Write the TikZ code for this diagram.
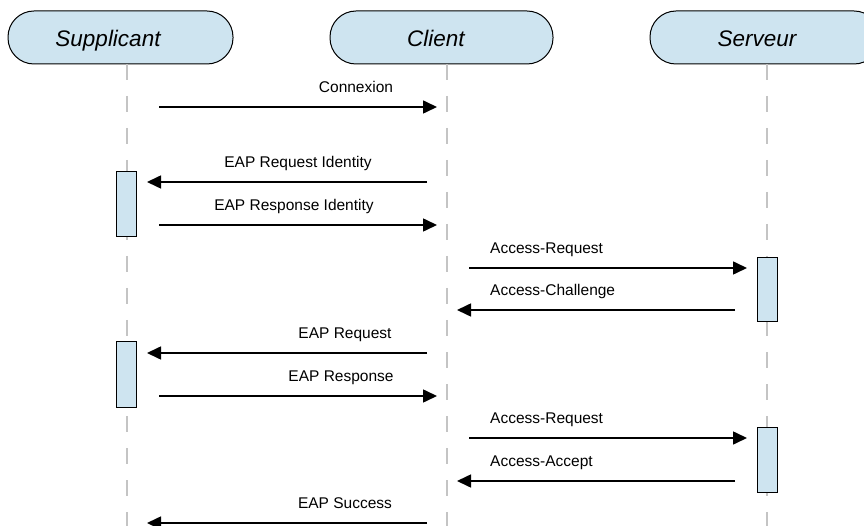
\documentclass[tikz,border=0pt]{standalone}
\usepackage{fontspec}
\setmainfont{Liberation Sans}
\usetikzlibrary{arrows.meta}
\definecolor{boxfill}{RGB}{206,228,240}
\definecolor{lifegray}{RGB}{196,196,196}
\begin{document}
\begin{tikzpicture}[x=1pt,y=-1pt,
  actor/.style={draw=black,fill=boxfill,line width=1pt,rounded corners=26pt,minimum height=53pt,inner sep=0pt},
  actortext/.style={font=\fontsize{22.5}{27}\selectfont\itshape,inner sep=0pt,anchor=base},
  lifeline/.style={draw=lifegray,line width=2.2pt,dash pattern=on 16pt off 16pt},
  act/.style={draw=black,fill=boxfill,line width=0.9pt,minimum width=20.5pt,inner sep=0pt},
  msg/.style={draw=black,line width=1.6pt,-{Triangle[length=14pt,width=13pt]}},
  lbl/.style={font=\fontsize{15.5}{18}\selectfont,inner sep=0pt,anchor=base},
  lblw/.style={lbl,anchor=base west}]
\useasboundingbox (0,0) rectangle (864,526);
% actors
\node[actor,minimum width=225pt] (sup) at (120.5,37.5) {};
\node[actor,minimum width=223pt] (cli) at (441.5,37.5) {};
\node[actor,minimum width=230pt] (srv) at (765,37.5) {};
\node[actortext] (supt) at (108,46.5) {Supplicant};
\node[actortext] (clit) at (436,46.5) {Client};
\node[actortext] (srvt) at (757,46.5) {Serveur};
% lifelines
\coordinate (l1t) at (127,64); \coordinate (l1b) at (127,530);
\coordinate (l2t) at (447,64); \coordinate (l2b) at (447,530);
\coordinate (l3t) at (767,64); \coordinate (l3b) at (767,530);
\draw[lifeline] (l1t) -- (l1b);
\draw[lifeline] (l2t) -- (l2b);
\draw[lifeline] (l3t) -- (l3b);
% activation boxes
\node[act,minimum height=65pt] (a1) at (126.5,203.5) {};
\node[act,minimum height=66pt] (a2) at (126.5,374) {};
\node[act,minimum height=64pt] (a3) at (767.5,289) {};
\node[act,minimum height=65pt] (a4) at (767.5,459.5) {};
% message endpoints
\coordinate (m1a) at (159,107); \coordinate (m1b) at (437,107);
\coordinate (m2a) at (427,182); \coordinate (m2b) at (147,182);
\coordinate (m3a) at (159,225); \coordinate (m3b) at (437,225);
\coordinate (m4a) at (469,268); \coordinate (m4b) at (747,268);
\coordinate (m5a) at (735,310); \coordinate (m5b) at (457,310);
\coordinate (m6a) at (427,353); \coordinate (m6b) at (147,353);
\coordinate (m7a) at (159,396); \coordinate (m7b) at (437,396);
\coordinate (m8a) at (469,438); \coordinate (m8b) at (747,438);
\coordinate (m9a) at (735,481); \coordinate (m9b) at (457,481);
\coordinate (m10a) at (427,523); \coordinate (m10b) at (147,523);
\draw[msg] (m1a) -- (m1b);
\draw[msg] (m2a) -- (m2b);
\draw[msg] (m3a) -- (m3b);
\draw[msg] (m4a) -- (m4b);
\draw[msg] (m5a) -- (m5b);
\draw[msg] (m6a) -- (m6b);
\draw[msg] (m7a) -- (m7b);
\draw[msg] (m8a) -- (m8b);
\draw[msg] (m9a) -- (m9b);
\draw[msg] (m10a) -- (m10b);
% labels
\node[lbl] (t1) at (356,93) {Connexion};
\node[lbl] (t2) at (298,167.5) {EAP Request Identity};
\node[lbl] (t3) at (294,210.5) {EAP Response Identity};
\node[lblw] (t4) at (490,253.5) {Access-Request};
\node[lblw] (t5) at (490,295.5) {Access-Challenge};
\node[lbl] (t6) at (345,338.5) {EAP Request};
\node[lbl] (t7) at (341,381.5) {EAP Response};
\node[lblw] (t8) at (490,423.5) {Access-Request};
\node[lblw] (t9) at (490,466.5) {Access-Accept};
\node[lbl] (t10) at (345,508.5) {EAP Success};
\end{tikzpicture}
\end{document}
